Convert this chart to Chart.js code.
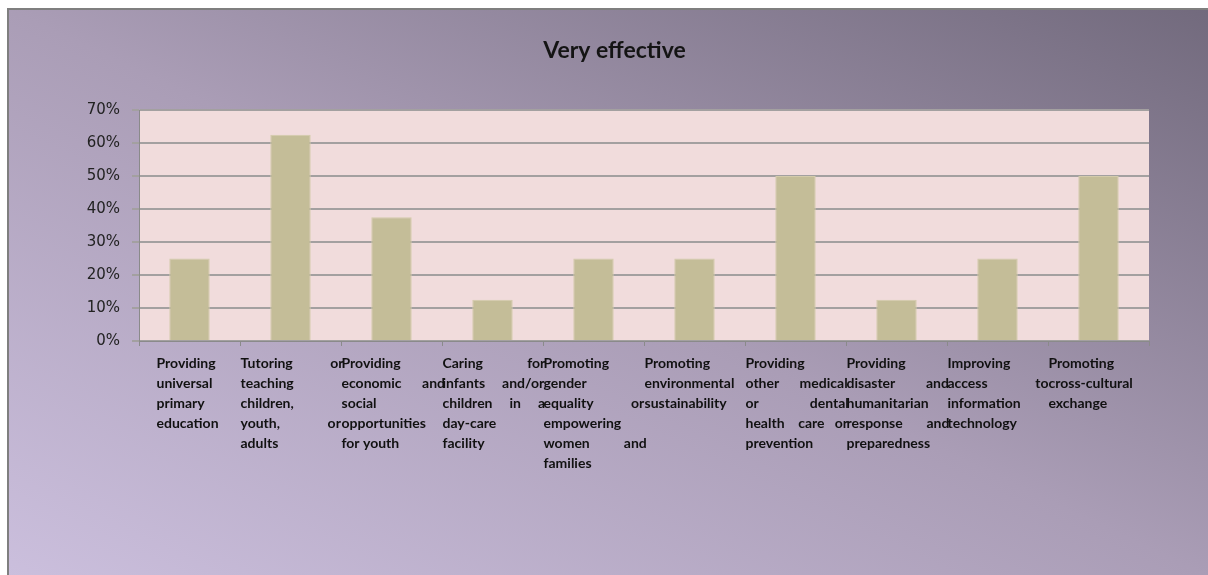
<!DOCTYPE html>
<html>
<head>
<meta charset="utf-8">
<title>Very effective</title>
<script src="https://cdn.jsdelivr.net/npm/chart.js@4.4.0/dist/chart.umd.min.js"></script>
<style>
    body{margin:0;background:#fff;}
    #box{
        position:absolute;left:7px;top:8px;width:1201px;height:567px;
        border-left:2px solid #7f7f7f;border-top:2px solid #7f7f7f;
        background:linear-gradient(to top right,#cbbfdd 0%,#aa9db6 50%,#726a7d 100%);
    }
    #Barcanvas{display:block;}
</style>
</head>
<body>
<div id="box"><canvas id="Barcanvas" width="1199" height="565"></canvas></div>
<script>
var categories=[
    ["Providing","universal","primary","education"],
    ["Tutoring or","teaching","children,","youth, or","adults"],
    ["Providing","economic and","social","opportunities","for youth"],
    ["Caring for","infants and/or","children in a","day-care","facility"],
    ["Promoting","gender","equality or","empowering","women and","families"],
    ["Promoting","environmental","sustainability"],
    ["Providing","other medical","or dental","health care or","prevention"],
    ["Providing","disaster and","humanitarian","response and","preparedness"],
    ["Improving","access to","information","technology"],
    ["Promoting","cross-cultural","exchange"]
];
var veryEffective=[25,62.5,37.5,12.5,25,25,50,12.5,25,50];
var yTicks=[0,10,20,30,40,50,60,70];

// label text box: lines are justified inside it like the spreadsheet did
var labelFont='bold 14px Lato';
var boxWidth=102;
var boxIndent=[16,0,0,0,0,0,0,0,0,0];

var measure=document.createElement('canvas').getContext('2d');
measure.font=labelFont;
var spaceW=measure.measureText(' ').width;

function justify(line,width)
{
    var words=line.split(' ');
    if(words.length<2) return line;
    var used=measure.measureText(words.join('')).width;
    var gaps=words.length-1;
    var total=Math.max(gaps,Math.round((width-used)/spaceW));
    var out=words[0];
    for(var g=0;g<gaps;g++)
    {
        var n=Math.floor(total/gaps)+(g<total%gaps?1:0);
        out=out+' '.repeat(n)+words[g+1];
    }
    return out;
}

var labels=[];
for(var i=0;i<categories.length;i++)
{
    var lines=[];
    var pad=' '.repeat(Math.round(boxIndent[i]/spaceW));
    for(var j=0;j<categories[i].length;j++)
    {
        var l=categories[i][j];
        if(j<categories[i].length-1) l=justify(l,boxWidth);
        lines.push(pad+l);
    }
    labels.push(lines);
}

// pink fill behind the bars
var plotFill={
    id:'plotFill',
    beforeDraw:function(chart){
        var a=chart.chartArea;
        var c=chart.ctx;
        c.save();
        c.fillStyle='#f1dcdc';
        c.fillRect(a.left,a.top,a.right-a.left,a.bottom-a.top);
        c.restore();
    }
};

var ctx1=document.getElementById("Barcanvas").getContext("2d");
window.myBar=new Chart(ctx1,{
    type:'bar',
    data:{
        labels:labels,
        datasets:[{
            label:'Very effective',
            data:veryEffective,
            backgroundColor:'#c4bd98',
            borderColor:'#d3cbab',
            borderWidth:1,
            barPercentage:0.4,
            categoryPercentage:1.0
        }]
    },
    options:{
        responsive:false,
        devicePixelRatio:1,
        animation:false,
        layout:{padding:{left:12,right:0,top:0,bottom:0}},
        plugins:{
            legend:{display:false},
            tooltip:{enabled:false},
            title:{
                display:true,
                text:'Very effective',
                color:'#141414',
                font:{family:'Lato',size:23,weight:'bold',lineHeight:1.2},
                padding:{top:27,bottom:45.4}
            }
        },
        scales:{
            x:{
                grid:{display:true,drawOnChartArea:false,offset:true,tickLength:5,color:'#8a8a8a'},
                border:{color:'#8a8a8a',width:1},
                ticks:{
                    autoSkip:false,maxRotation:0,minRotation:0,
                    align:'start',labelOffset:-50,padding:7,
                    color:'#111',
                    font:{family:'Lato',size:14,weight:'bold',lineHeight:'20px'}
                },
                // keep the plot clear of the right edge, title stays centred on the frame
                afterFit:function(scale){scale.height=234;scale.paddingRight=59;}
            },
            y:{
                min:0,max:70,
                afterBuildTicks:function(scale){
                    scale.ticks=yTicks.map(function(v){return {value:v};});
                },
                grid:{color:'#a3a0a0',lineWidth:2,tickLength:7},
                border:{color:'#8a8a8a',width:1},
                ticks:{
                    padding:12,
                    color:'#222',
                    font:{family:'DejaVu Sans',size:15},
                    callback:function(v){return v+'%';}
                },
                afterFit:function(scale){scale.width=118;}
            }
        }
    },
    plugins:[plotFill]
});
</script>
</body>
</html>
